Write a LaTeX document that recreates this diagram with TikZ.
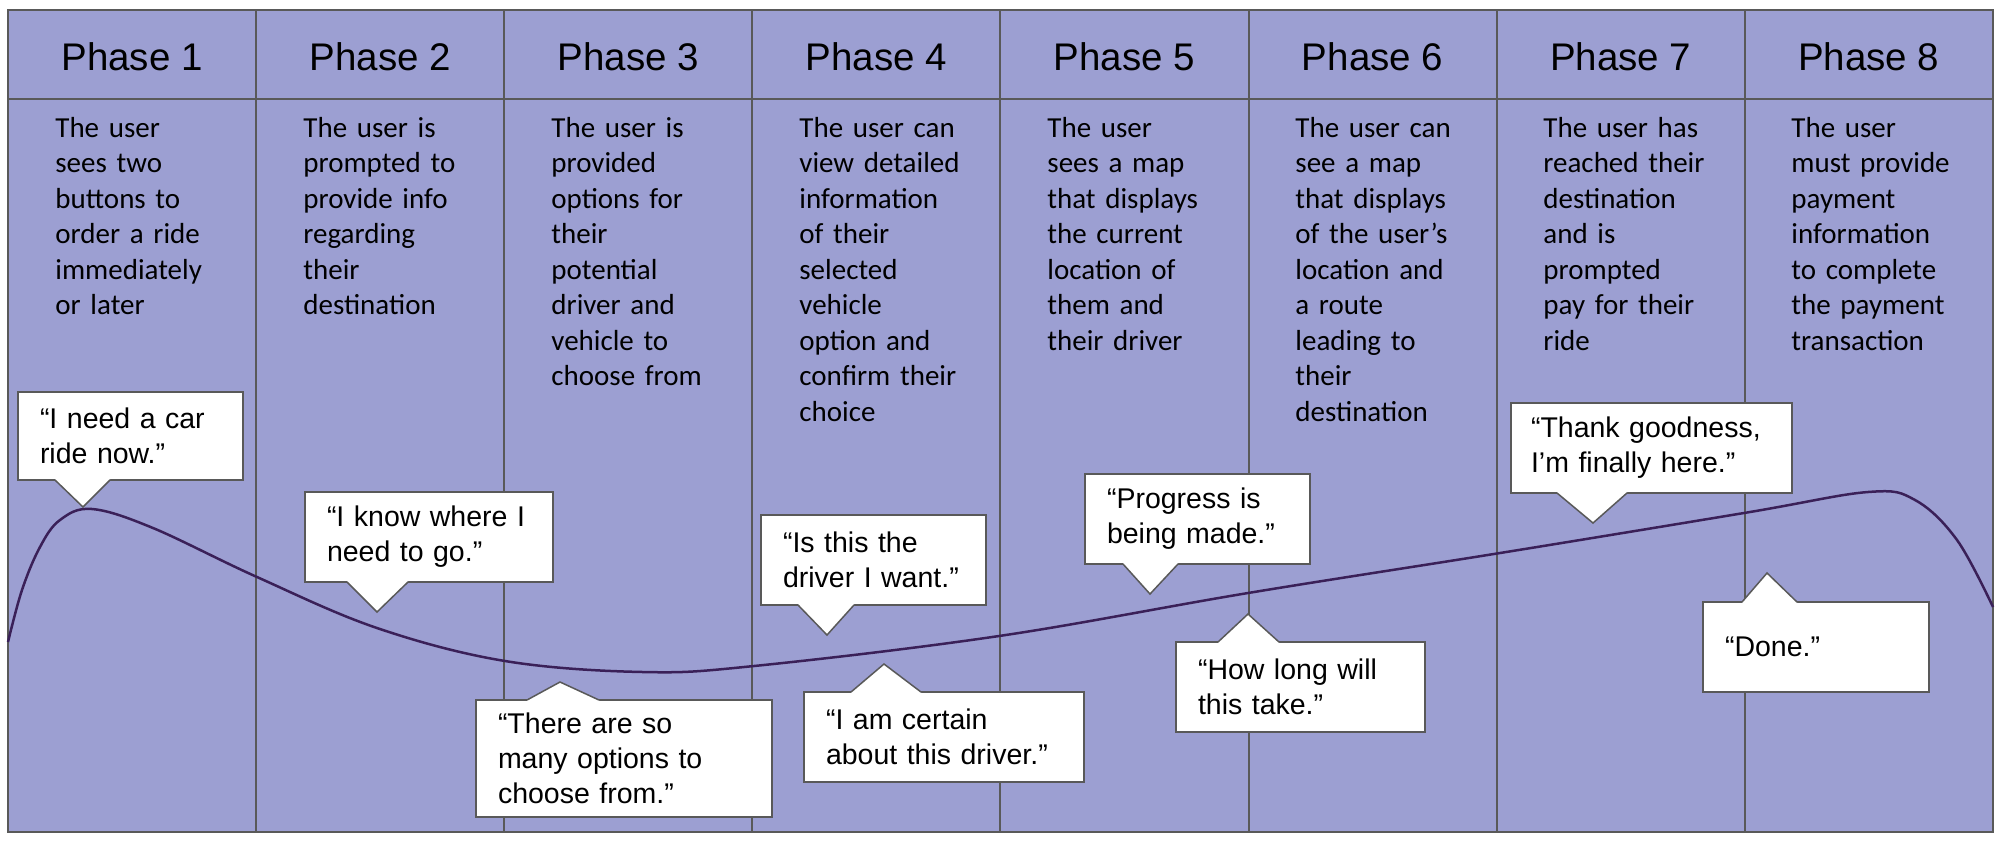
\documentclass[tikz,border=0pt]{standalone}
\usepackage{fontspec}
\setmainfont{Liberation Sans}
\newfontfamily\bodyfont{Carlito}
\usetikzlibrary{positioning, calc}

\definecolor{phasefill}{RGB}{156,159,210}
\definecolor{rulegray}{RGB}{89,89,89}
\definecolor{moodline}{RGB}{58,32,88}

\tikzset{
  phase/.style={anchor=base, font=\fontsize{19.25pt}{23pt}\selectfont},
  desc/.style={anchor=base west, align=left, inner sep=0pt, text width=110pt,
    font=\bodyfont\fontsize{14.5pt}{17.75pt}\selectfont},
  quote/.style={draw=rulegray, line width=0.75pt, fill=white, anchor=north west,
    outer sep=0pt, inner xsep=11pt, inner ysep=0pt, align=left,
    font=\fontsize{14.25pt}{17.5pt}\selectfont},
  tail/.style={draw=rulegray, line width=0.75pt, line cap=round}
}

\begin{document}
\begin{tikzpicture}[x=0.5pt, y=-0.5pt]
    \useasboundingbox (0,0) rectangle (2002,843);
    \fill[phasefill] (8,10) rectangle (1993,832);

    % columns and header row
    \foreach \i in {1,...,7}
        \draw[rulegray, line width=1pt] ({8+\i*248.1},10) -- ({8+\i*248.1},832);
    \draw[rulegray, line width=1.3pt] (8,99) -- (1993,99);
    \draw[rulegray, line width=1.3pt] (8,10) rectangle (1993,832);

    \foreach \i in {1,...,8}
        \node[phase] (ph\i) at ({8+(\i-0.5)*248.1},70) {Phase \i};

    % what happens in each phase
    \node[desc] (d1) at (55,137) {The user\\sees two\\buttons to\\order a ride\\immediately\\or later};
    \node[desc] (d2) at (303,137) {The user is\\prompted to\\provide info\\regarding\\their\\destination};
    \node[desc] (d3) at (551,137) {The user is\\provided\\options for\\their\\potential\\driver and\\vehicle to\\choose from};
    \node[desc] (d4) at (799,137) {The user can\\view detailed\\information\\of their\\selected\\vehicle\\option and\\confirm their\\choice};
    \node[desc] (d5) at (1047,137) {The user\\sees a map\\that displays\\the current\\location of\\them and\\their driver};
    \node[desc] (d6) at (1295,137) {The user can\\see a map\\that displays\\of the user’s\\location and\\a route\\leading to\\their\\destination};
    \node[desc] (d7) at (1543,137) {The user has\\reached their\\destination\\and is\\prompted\\pay for their\\ride};
    \node[desc] (d8) at (1791,137) {The user\\must provide\\payment\\information\\to complete\\the payment\\transaction};

    % mood curve
    \draw[moodline, line width=1.25pt] plot[smooth, tension=0.6] coordinates {
        (8,642) (22,590) (40,547) (60,520) (92,509) (153,528) (257,577)
        (377,628) (505,661) (643,672) (754,666) (999,636) (1248,593)
        (1500,553) (1744,513) (1868,492) (1915,500) (1957,540) (1993,607)};

    % quotes
    \node[quote, text width=90.5pt, minimum height=44pt] (q1) at (18,392) {“I need a car\\ride now.”};
    \node[quote, text width=102pt, minimum height=45pt] (q2) at (305,492) {“I know where I\\need to go.”};
    \node[quote, text width=126pt, minimum height=58.5pt] (q3) at (476,700) {“There are so\\many options to\\choose from.”};
    \node[quote, text width=90.5pt, minimum height=45pt] (q4) at (761,515) {“Is this the\\driver I want.”};
    \node[quote, text width=118pt, minimum height=45pt] (q5) at (804,692) {“I am certain\\about this driver.”};
    \node[quote, text width=90.5pt, minimum height=45pt] (q6) at (1085,474) {“Progress is\\being made.”};
    \node[quote, text width=102.5pt, minimum height=45pt] (q7) at (1176,642) {“How long will\\this take.”};
    \node[quote, inner xsep=10pt, text width=120.5pt, minimum height=45pt] (q8) at (1511,403) {“Thank goodness,\\I’m finally here.”};
    \node[quote, text width=91pt, minimum height=45pt] (q9) at (1703,602) {“Done.”};

    \foreach \a/\b/\c/\tx/\ty in {55/110/480/83/507, 347/408/582/377/612,
        527/599/700/560/682, 798/854/605/827/635, 851/921/692/884/664,
        1123/1178/564/1150/594, 1218/1279/642/1248/614,
        1557/1627/493/1593/523, 1742/1797/602/1767/573}{
        \pgfmathsetmacro{\ci}{\c+3*sign(\c-\ty)}
        \fill[white] (\a,\ci) -- (\a,\c) -- (\tx,\ty) -- (\b,\c) -- (\b,\ci) -- cycle;
        \draw[tail] (\a,\c) -- (\tx,\ty) -- (\b,\c);
    }
\end{tikzpicture}
\end{document}
